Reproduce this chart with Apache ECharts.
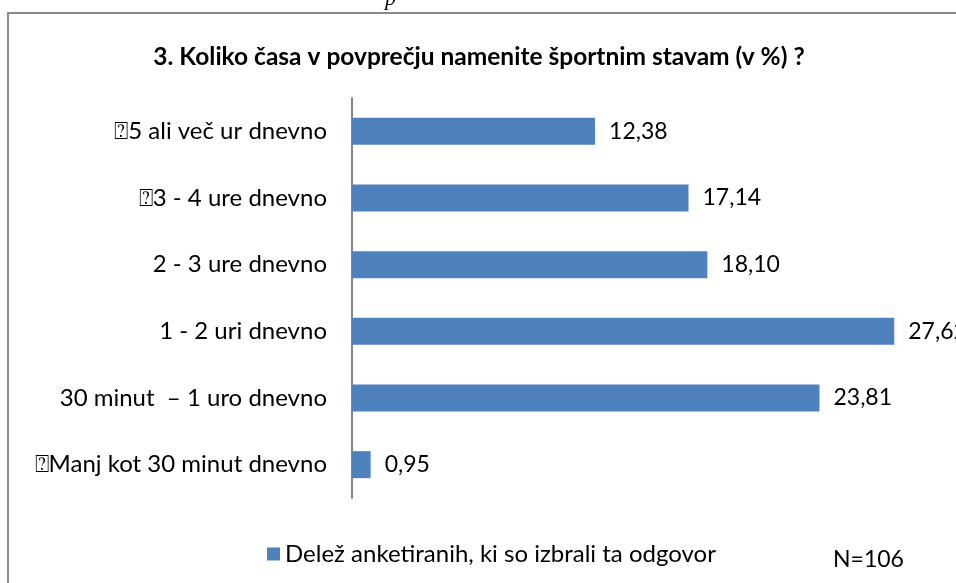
<!DOCTYPE html>
<html>
<head>
<meta charset="utf-8">
<script src="https://cdn.jsdelivr.net/npm/echarts@6/dist/echarts.min.js"></script>
<style>
  html, body { margin: 0; padding: 0; background: #fff; }
  #chart { width: 956px; height: 583px; }
</style>
</head>
<body>
<div id="chart"></div>
<script>
// categories top to bottom
const categories = [
  "\u23705 ali več ur dnevno",
  "\u23703 - 4 ure dnevno",
  "2 - 3 ure dnevno",
  "1 - 2 uri dnevno",
  "30 minut  \u2013 1 uro dnevno",
  "\u2370Manj kot 30 minut dnevno"
];
const shares = [12.38, 17.14, 18.10, 27.62, 23.81, 0.95];
const seriesName = "Delež anketiranih, ki so izbrali ta odgovor";
const titleText = "3. Koliko časa v povprečju namenite športnim stavam (v %) ?";

const font = "Lato, 'Open Sans', sans-serif";

const chart = echarts.init(document.getElementById("chart"));

chart.setOption({
  animation: false,
  backgroundColor: "#fff",
  title: {
    text: titleText,
    left: 474,
    textAlign: "center",
    top: 40,
    textStyle: { fontFamily: font, fontSize: 24.5, fontWeight: "bold", color: "#000" }
  },
  legend: {
    data: [seriesName],
    left: 262,
    top: 537,
    icon: "rect",
    itemWidth: 13,
    itemHeight: 13,
    itemGap: 6,
    textStyle: { fontFamily: font, fontSize: 24, color: "#000" }
  },
  grid: { left: 352, top: 98, width: 589, height: 400, containLabel: false },
  xAxis: {
    type: "value",
    min: 0,
    max: 30,
    show: false
  },
  yAxis: {
    type: "category",
    inverse: true,
    data: categories,
    axisLine: { show: true, lineStyle: { color: "#868686", width: 2 } },
    axisTick: { show: false },
    axisLabel: {
      margin: 25,
      fontFamily: font,
      fontSize: 24,
      color: "#000"
    }
  },
  series: [{
    name: seriesName,
    type: "bar",
    data: shares,
    barWidth: 27,
    itemStyle: { color: "#4F81BD" },
    label: {
      show: true,
      position: "right",
      distance: 14,
      fontFamily: font,
      fontSize: 23,
      color: "#000",
      formatter: p => p.value.toFixed(2).replace(".", ",")
    }
  }],
  graphic: [
    {
      type: "rect",
      shape: { x: 8, y: 13, width: 1000, height: 700 },
      style: { fill: "none", stroke: "#8a8a8a", lineWidth: 2 },
      silent: true
    },
    {
      type: "text",
      left: 385,
      top: -12,
      style: { text: "p", fontFamily: "'Liberation Serif', serif", fontStyle: "italic", fontSize: 22, fill: "#000" }
    },
    {
      type: "text",
      left: 833,
      top: 548,
      style: { text: "N=106", fontFamily: font, fontSize: 23, fill: "#000" }
    }
  ]
});
</script>
</body>
</html>
